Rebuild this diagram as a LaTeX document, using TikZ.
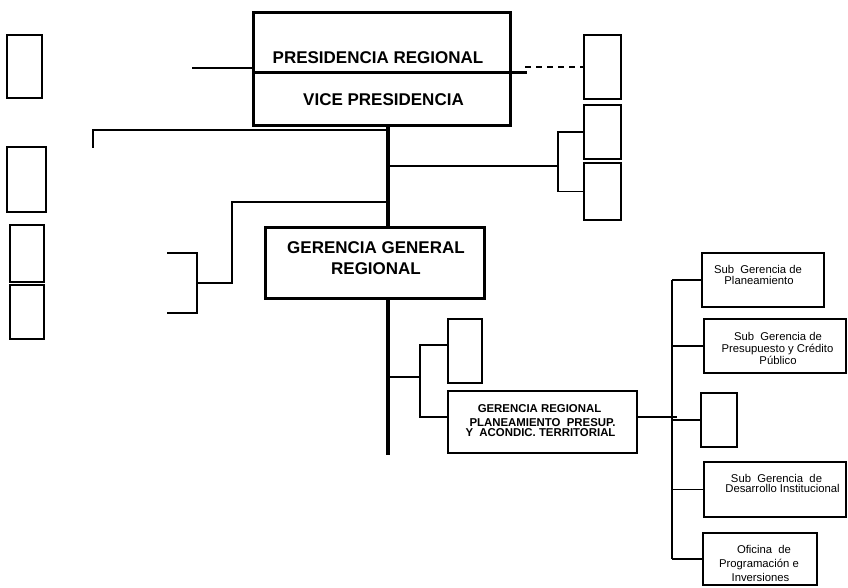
\documentclass[tikz,border=0pt]{standalone}
\usepackage{fontspec}
\setmainfont{Liberation Sans}
\begin{document}
\begin{tikzpicture}[x=1pt,y=-1pt,
  bx/.style={draw, inner sep=0pt, outer sep=0pt, line width=2pt},
  thickbx/.style={bx, line width=3pt},
  sgbx/.style={bx, line width=1.7pt},
  conn/.style={line width=1.7pt},
  trunk/.style={line width=4pt},
  big/.style={font=\fontsize{17}{17}\selectfont\bfseries, inner sep=0pt, text height=12pt, text depth=0pt},
  mid/.style={font=\fontsize{11.4}{11.4}\selectfont\bfseries, inner sep=0pt, text height=8pt, text depth=0pt},
  small/.style={font=\fontsize{11.3}{11.3}\selectfont, inner sep=0pt, text height=8pt, text depth=2pt}]
\useasboundingbox (0,0) rectangle (848,587);
% ---------- boxes ----------
\node[thickbx, minimum width=257pt, minimum height=60pt] (pres) at (381.5,42) {};
\node[thickbx, minimum width=257pt, minimum height=53pt] (vice) at (381.5,98.5) {};
\node[thickbx, minimum width=219pt, minimum height=71pt] (ggr) at (374.5,262.5) {};
\node[bx, minimum width=35pt, minimum height=63pt] (L1) at (24.5,66.5) {};
\node[bx, minimum width=39pt, minimum height=65pt] (L2) at (26.5,179.5) {};
\node[bx, minimum width=34pt, minimum height=57pt] (L3) at (27,253.5) {};
\node[bx, minimum width=34pt, minimum height=54pt] (L4) at (27,312) {};
\node[bx, minimum width=37pt, minimum height=64pt] (R1) at (602.5,67) {};
\node[bx, minimum width=37pt, minimum height=54pt] (R2) at (602.5,132) {};
\node[bx, minimum width=37pt, minimum height=57pt] (R3) at (602.5,191.5) {};
\node[bx, minimum width=34pt, minimum height=64pt] (S1) at (465,351) {};
\node[bx, minimum width=189pt, minimum height=62pt] (gr) at (542.5,422) {};
\node[sgbx, minimum width=122pt, minimum height=54pt] (SG1) at (763,280) {};
\node[sgbx, minimum width=142pt, minimum height=54pt] (SG2) at (775,346) {};
\node[sgbx, minimum width=36pt, minimum height=54pt] (SR) at (719,420) {};
\node[sgbx, minimum width=142pt, minimum height=55pt] (SG4) at (775,489.5) {};
\node[sgbx, minimum width=114pt, minimum height=52pt] (SG5) at (760,559) {};
% ---------- texts ----------
\node[big] (tpres) at (378,57) {PRESIDENCIA REGIONAL};
\node[big] (tvice) at (383.5,99) {VICE PRESIDENCIA};
\node[big] (tggr1) at (376,247) {GERENCIA GENERAL};
\node[big] (tggr2) at (376,268) {REGIONAL};
\node[mid] (tgr1) at (539.5,408) {GERENCIA REGIONAL};
\node[mid] (tgr2) at (542.5,422) {PLANEAMIENTO\ \ PRESUP.};
\node[mid] (tgr3) at (540.5,432.5) {Y\ \ ACONDIC. TERRITORIAL};
\node[small] (ts11) at (758,270.5) {Sub\ \ Gerencia de};
\node[small] (ts12) at (759,281.5) {Planeamiento};
\node[small] (ts21) at (778,337) {Sub\ \ Gerencia de};
\node[small] (ts22) at (777.5,349) {Presupuesto y Crédito};
\node[small] (ts23) at (778,361) {Público};
\node[small] (ts41) at (776.5,479) {Sub\ \ Gerencia\ \ de};
\node[small] (ts42) at (782.5,489.5) {Desarrollo Institucional};
\node[small] (ts51) at (764,550) {Oficina\ \ de};
\node[small] (ts52) at (759,564) {Programación e};
\node[small] (ts53) at (760.5,578) {Inversiones};
% ---------- coordinates ----------
\coordinate (tx) at (388,0);
\coordinate (tend) at (388,455);
\coordinate (ll) at (192,68);
\coordinate (dx) at (527,72);
\coordinate (dd) at (525,67);
\coordinate (a1) at (93,130);
\coordinate (a2) at (93,148);
\coordinate (b) at (558,166);
\coordinate (c1) at (232,202);
\coordinate (c2) at (197,283);
\coordinate (c3) at (167,253);
\coordinate (c4) at (167,313);
\coordinate (d) at (420,377);
\coordinate (d1) at (420,345);
\coordinate (d2) at (420,417);
\coordinate (e) at (672,417);
\coordinate (e2) at (677,417);
% ---------- connectors ----------
\draw[trunk] (vice.south -| tx) -- (ggr.north -| tx);
\draw[trunk] (ggr.south -| tx) -- (tend);
\draw[line width=3pt] (vice.north east) -- (dx);
\draw[conn] (ll) -- (ll -| pres.west);
\draw[conn, dash pattern=on 6pt off 5pt] (dd) -- (dd -| R1.west);
\draw[conn] (tx |- a1) -- (a1) -- (a2);
\draw[conn] (tx |- b) -- (b);
\draw[conn] (R2.west) -| (b) |- (R3.west);
\draw[conn] (tx |- c1) -- (c1) |- (c2);
\draw[conn] (c3) -| (c2) |- (c4);
\draw[conn] (tx |- d) -- (d);
\draw[conn] (d1 -| S1.west) -- (d1) -- (d2) -- (d2 -| gr.west);
\draw[conn] (d2 -| gr.east) -- (e2);
\draw[conn] (e |- SG1.west) -- (e |- SG5.west);
\draw[conn] (e |- SG1.west) -- (SG1.west);
\draw[conn] (e |- SG2.west) -- (SG2.west);
\draw[conn] (e |- SR.west) -- (SR.west);
\draw[conn] (e |- SG4.west) -- (SG4.west);
\draw[conn] (e |- SG5.west) -- (SG5.west);
\end{tikzpicture}
\end{document}
